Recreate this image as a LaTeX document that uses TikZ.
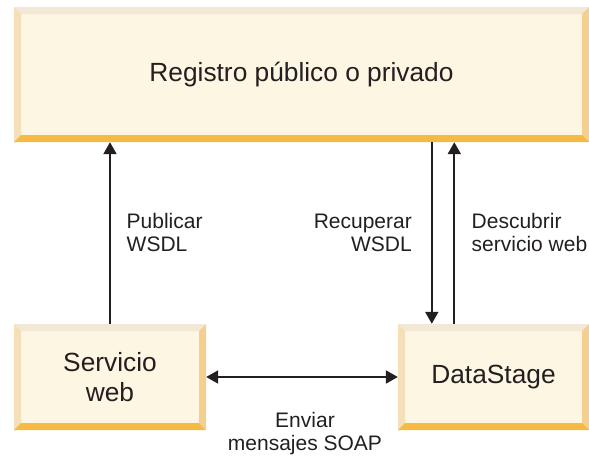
\documentclass[tikz,border=0pt]{standalone}
\usepackage{fontspec}
\setmainfont{Liberation Sans}
\usetikzlibrary{arrows.meta}
\definecolor{bvfill}{HTML}{FDF6E3}
\definecolor{bvtop}{HTML}{F3E8D6}
\definecolor{bvleft}{HTML}{F5DFB8}
\definecolor{bvright}{HTML}{F5CF90}
\definecolor{bvbot}{HTML}{F5BA41}
\definecolor{ink}{HTML}{231F20}
\tikzset{
  bevelbox/.style={inner sep=0pt, fill=bvfill, text=ink, align=center,
    font=\fontsize{26.3}{30}\selectfont,
    path picture={
      \coordinate (pnw) at (path picture bounding box.north west);
      \coordinate (pne) at (path picture bounding box.north east);
      \coordinate (psw) at (path picture bounding box.south west);
      \coordinate (pse) at (path picture bounding box.south east);
      \fill[bvtop] (pnw) -- (pne) -- ([shift={(-7pt,-7pt)}]pne) -- ([shift={(7pt,-7pt)}]pnw) -- cycle;
      \fill[bvleft] (pnw) -- (psw) -- ([shift={(7pt,7pt)}]psw) -- ([shift={(7pt,-7pt)}]pnw) -- cycle;
      \fill[bvright] (pne) -- (pse) -- ([shift={(-7pt,7pt)}]pse) -- ([shift={(-7pt,-7pt)}]pne) -- cycle;
      \fill[bvbot] (psw) -- (pse) -- ([shift={(-7pt,7pt)}]pse) -- ([shift={(7pt,7pt)}]psw) -- cycle;
    }},
  lbl/.style={inner sep=0pt, text=ink, font=\fontsize{21}{23}\selectfont},
  arr/.style={draw=ink, line width=2pt, -{Triangle[width=13pt,length=12pt]}},
  darr/.style={draw=ink, line width=2pt, {Triangle[width=13pt,length=12pt]}-{Triangle[width=13pt,length=12pt]}}
}
\begin{document}
\begin{tikzpicture}[x=1pt,y=-1pt]
\useasboundingbox (0,0) rectangle (589,458);
\node[bevelbox, minimum width=575pt, minimum height=135pt] (reg) at (301.5,74.5) {Registro público o privado};
\node[bevelbox, minimum width=192pt, minimum height=106pt] (sw) at (110,377) {Servicio\\web};
\node[bevelbox, minimum width=191pt, minimum height=106pt] (ds) at (493.5,377) {DataStage};
\draw[arr] (sw.north) -- (sw.north |- reg.south);
\draw[arr] ([xshift=34pt]ds.north west |- reg.south) -- ([xshift=34pt]ds.north west);
\draw[arr] ([xshift=56.5pt]ds.north west) -- ([xshift=56.5pt]ds.north west |- reg.south);
\draw[darr] (sw.east) -- (ds.west);
\node[lbl, anchor=base west, align=left] (pub) at (126.5,251) {Publicar\\WSDL};
\node[lbl, anchor=base east, align=right] (rec) at (412,251) {Recuperar\\WSDL};
\node[lbl, anchor=base west, align=left] (dis) at (471.5,251) {Descubrir\\servicio web};
\node[lbl, anchor=base, align=center] (env) at (305,450) {Enviar\\mensajes SOAP};
\end{tikzpicture}
\end{document}
